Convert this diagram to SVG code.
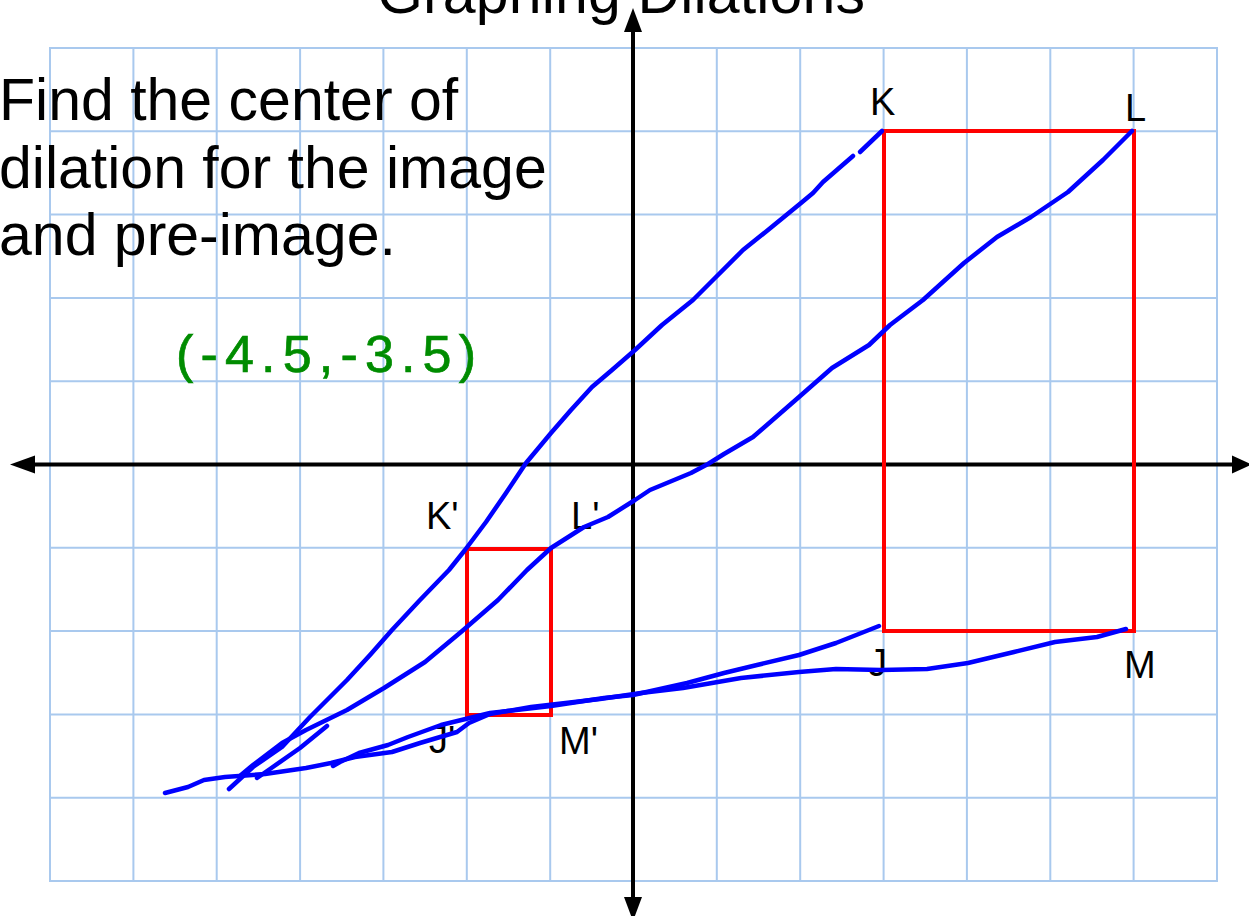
<svg xmlns="http://www.w3.org/2000/svg" width="1249" height="916" viewBox="0 0 1249 916">
<style>
.grid{stroke:#a9c9ee;stroke-width:2;fill:none}
.axis{stroke:#000;stroke-width:4;fill:none}
.head{fill:#000}
.txt{font-family:"Liberation Sans",Arial,sans-serif;fill:#000}
.big{font-size:59px}
.lbl{font-size:38px}
.red{stroke:#ff0000;stroke-width:4;fill:none}
.blue{stroke:#0000ff;stroke-width:4.5;fill:none;stroke-linecap:round;stroke-linejoin:round}
.hand{font-family:"Liberation Sans",Arial,sans-serif;font-size:52px;fill:#008c00;stroke:#008c00;stroke-width:0.7}
</style>
<rect width="1249" height="916" fill="#fff"/>
<g id="grid" class="grid">
<rect x="50" y="48" width="1167" height="833"/>
<path d="M133.4 48V881M216.7 48V881M300.1 48V881M383.4 48V881M466.8 48V881M550.2 48V881M716.8 48V881M800.2 48V881M883.6 48V881M966.9 48V881M1050.3 48V881M1133.6 48V881"/>
<path d="M50 131.3H1217M50 214.6H1217M50 297.9H1217M50 381.2H1217M50 547.8H1217M50 631.1H1217M50 714.4H1217M50 797.7H1217"/>
</g>
<g id="axes">
<line class="axis" x1="30" y1="464.5" x2="1236" y2="464.5"/>
<line class="axis" x1="633" y1="28" x2="633" y2="900"/>
<polygon class="head" points="10,464.5 35,455.5 35,473.5"/>
<polygon class="head" points="1252,464.5 1232,455.5 1232,473.5"/>
<polygon class="head" points="633,8 624,32 642,32"/>
<polygon class="head" points="633,921 624,897 642,897"/>
</g>
<g id="title"><text class="txt big" x="377" y="13" textLength="488" lengthAdjust="spacing">Graphing Dilations</text></g>
<g id="question">
<text class="txt big" x="-1" y="120">Find the center of</text>
<text class="txt big" x="-1" y="188">dilation for the image</text>
<text class="txt big" x="-1" y="255">and pre-image.</text>
</g>
<g id="answer"><text class="hand" x="176" y="372" textLength="300" lengthAdjust="spacing">(-4.5,-3.5)</text></g>
<g id="labels">
<text class="txt lbl" x="870" y="115">K</text>
<text class="txt lbl" x="1125" y="121">L</text>
<text class="txt lbl" x="868" y="676">J</text>
<text class="txt lbl" x="1124" y="678">M</text>
<text class="txt lbl" x="426" y="529">K'</text>
<text class="txt lbl" x="571" y="529">L'</text>
<text class="txt lbl" x="429" y="753">J'</text>
<text class="txt lbl" x="559" y="754">M'</text>
</g>
<g id="preimage"><rect class="red" x="884" y="131" width="250" height="500"/></g>
<g id="image"><rect class="red" x="467" y="549" width="84" height="166"/></g>
<g id="connectors" class="blue">
<polyline points="882,131 860,152"/>
<polyline points="853,156 823,182 813,193 801,203 768,230 743,250 716,277 693,300 662,325 635,350 612,370 592,387 571,410 551,433 526,463 506,493 486,522 465,550 449,570 420,600 392,630 370,655 347,680 310,717 282,747 253,767 229,789"/>
<polyline points="1132,131 1103,160 1068,192 1031,217 997,237 964,263 923,300 890,325 869,345 832,368 799,397 753,437 724,454 708,464 691,473 650,490 635,500 608,517 584,527 551,548 527,570 498,600 461,632 425,662 384,688 347,710 306,730 282,743 253,765 241,775"/>
<polyline points="327,726 300,748 270,769 257,778"/>
<polyline points="879,626 836,643 799,655 757,665 724,673 687,683 633,695 604,698 551,706 490,713 441,725 408,737 388,745 359,753 340,762 333,766"/>
<polyline points="1126,629 1097,637 1055,642 1014,652 968,663 927,669 881,670 836,669 799,672 741,678 683,688 641,693 600,699 531,707 490,714 469,723 457,732 420,743 392,752 355,757 331,763 306,768 265,774 225,777 204,780 188,787 165,793"/>
</g>
</svg>
